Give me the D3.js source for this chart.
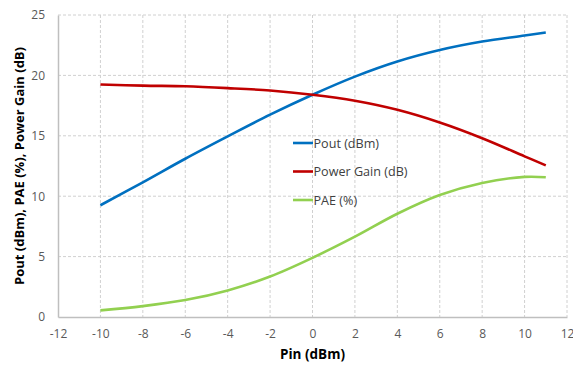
<!DOCTYPE html>
<html>
<head>
<meta charset="utf-8">
<script src="https://cdn.jsdelivr.net/npm/d3@7"></script>
<style>
body { margin: 0; background: #fff; }
text { font-family: "Open Sans", sans-serif; }
</style>
</head>
<body>
<svg id="svg1" width="573" height="369"></svg>
<script>
// values
var pin = [-10, -8, -6, -4, -2, 0, 2, 4, 6, 8, 10, 11];
var pout = [9.25, 11.15, 13.1, 14.95, 16.75, 18.4, 19.9, 21.15, 22.1, 22.8, 23.3, 23.55];
var gain = [19.25, 19.15, 19.1, 18.95, 18.75, 18.4, 17.9, 17.15, 16.1, 14.8, 13.3, 12.55];
var pae = [0.55, 0.9, 1.4, 2.2, 3.35, 4.9, 6.65, 8.55, 10.1, 11.1, 11.6, 11.57];
var seriesNames = ["Pout (dBm)", "Power Gain (dB)", "PAE (%)"];
var seriesColors = ["#0070c0", "#c00000", "#92d050"];
var xTicks = d3.range(-12, 13, 2);
var yTicks = [0, 5, 10, 15, 20, 25];

var svg1 = d3.select("#svg1");
var margin = {left: 58, top: 15, right: 6, bottom: 52};
var width = 573 - margin.left - margin.right;
var height = 369 - margin.top - margin.bottom;

var x = d3.scaleLinear().domain([-12, 12]).range([0, width]);
var y = d3.scaleLinear().domain([0, 25]).range([height, 0]);

var g = svg1.append("g").attr("transform", `translate(${margin.left},${margin.top})`);

// grid
g.selectAll(".vgrid").data(xTicks.slice(1)).enter().append("line")
  .attr("x1", d => x(d)).attr("x2", d => x(d))
  .attr("y1", 0).attr("y2", height)
  .attr("stroke", "#d0d0d0").attr("stroke-dasharray", "3,2");
g.selectAll(".hgrid").data(yTicks.slice(1)).enter().append("line")
  .attr("x1", 0).attr("x2", width)
  .attr("y1", d => y(d)).attr("y2", d => y(d))
  .attr("stroke", "#d0d0d0").attr("stroke-dasharray", "3,2");

// axes (hyphen minus like the original)
var fmt = d => String(d);
var xAxis = g.append("g").attr("transform", `translate(0,${height})`)
  .call(d3.axisBottom(x).tickValues(xTicks).tickFormat(fmt).tickSize(0).tickPadding(12));
var yAxis = g.append("g")
  .call(d3.axisLeft(y).tickValues(yTicks).tickFormat(fmt).tickSize(0).tickPadding(13));
[xAxis, yAxis].forEach(function(a) {
  a.select(".domain").attr("stroke", "#bfbfbf").attr("stroke-width", 1.5);
  a.selectAll("text").attr("fill", "#595959").style("font-size", "12px")
    .style("font-family", "'Open Sans', sans-serif");
});

// lines
var allSeries = [pout, gain, pae];
var line = d3.line()
  .x((d, i) => x(pin[i]))
  .y(d => y(d))
  .curve(d3.curveCatmullRom.alpha(0.5));
allSeries.forEach(function(s, k) {
  g.append("path").datum(s)
    .attr("fill", "none")
    .attr("stroke", seriesColors[k])
    .attr("stroke-width", 2.6)
    .attr("d", line);
});

// legend
var legend = g.append("g").attr("transform", "translate(235,128)");
seriesNames.forEach(function(n, k) {
  var row = legend.append("g").attr("transform", `translate(0,${k * 28.5})`);
  row.append("line").attr("x1", 0).attr("x2", 20).attr("y1", 0).attr("y2", 0)
    .attr("stroke", seriesColors[k]).attr("stroke-width", 2.6);
  row.append("text").attr("x", 20.5).attr("y", 4.5)
    .attr("fill", "#404040").style("font-size", "12.6px").text(n);
});

// axis titles
svg1.append("text")
  .attr("x", margin.left + x(0)).attr("y", 359)
  .attr("text-anchor", "middle")
  .style("font-weight", "bold").style("font-size", "13.5px")
  .attr("fill", "#000")
  .text("Pin (dBm)");
svg1.append("text")
  .attr("transform", "translate(24," + 166 + ") rotate(-90)")
  .attr("text-anchor", "middle")
  .style("font-weight", "bold").style("font-size", "13px")
  .attr("fill", "#000")
  .text("Pout (dBm), PAE (%), Power Gain (dB)");
</script>
</body>
</html>
